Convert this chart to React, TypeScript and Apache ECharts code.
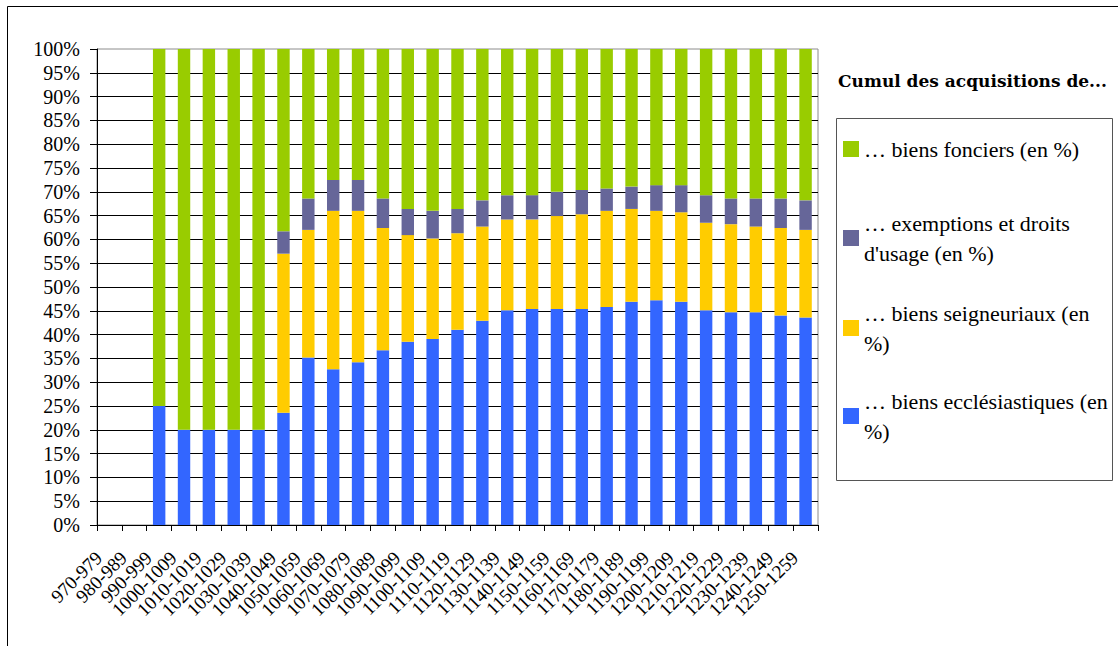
import React, { useEffect, useRef } from "react";
import * as echarts from "echarts";

const categories = [
  "970-979", "980-989", "990-999", "1000-1009", "1010-1019", "1020-1029", "1030-1039",
  "1040-1049", "1050-1059", "1060-1069", "1070-1079", "1080-1089", "1090-1099", "1100-1109",
  "1110-1119", "1120-1129", "1130-1139", "1140-1149", "1150-1159", "1160-1169", "1170-1179",
  "1180-1189", "1190-1199", "1200-1209", "1210-1219", "1220-1229", "1230-1239", "1240-1249",
  "1250-1259",
];

const ecclesiastiques = [
  null, null, 25, 20, 20, 20, 20, 23.6, 35.2, 32.7, 34.2, 36.7, 38.5, 39.1, 41.0,
  42.9, 45.1, 45.4, 45.4, 45.4, 45.8, 46.9, 47.2, 46.9, 45.1, 44.7, 44.7, 44.0, 43.6,
];
const seigneuriaux = [
  null, null, 0, 0, 0, 0, 0, 33.4, 26.8, 33.3, 31.8, 25.7, 22.4, 21.1, 20.3,
  19.8, 19.1, 18.8, 19.5, 19.9, 20.2, 19.5, 18.8, 18.8, 18.4, 18.5, 18.0, 18.4, 18.4,
];
const exemptions = [
  null, null, 0, 0, 0, 0, 0, 4.7, 6.6, 6.5, 6.5, 6.2, 5.5, 5.8, 5.1,
  5.5, 5.1, 5.1, 5.1, 5.1, 4.7, 4.7, 5.4, 5.7, 5.8, 5.4, 5.9, 6.2, 6.2,
];
const fonciers = [
  null, null, 75, 80, 80, 80, 80, 38.3, 31.4, 27.5, 27.5, 31.4, 33.6, 34.0, 33.6,
  31.8, 30.7, 30.7, 30.0, 29.6, 29.3, 28.9, 28.6, 28.6, 30.7, 31.4, 31.4, 31.4, 31.8,
];

const legendTitle = "Cumul des acquisitions de...";
const nameFonciers = "… biens fonciers (en %)";
const nameExemptions = "… exemptions et droits d'usage (en %)";
const nameSeigneuriaux = "… biens seigneuriaux (en %)";
const nameEccl = "… biens ecclésiastiques (en %)";
const legendLines: Record<string, string> = {
  [nameFonciers]: "… biens fonciers (en %)",
  [nameExemptions]: "… exemptions et droits\nd'usage (en %)",
  [nameSeigneuriaux]: "… biens seigneuriaux (en\n%)",
  [nameEccl]: "… biens ecclésiastiques (en\n%)",
};

const SERIF = "Liberation Serif, serif";
const LH = 30;
const ICON = 16;

function mkLegend(name: string, centerY: number, lines: number) {
  return {
    data: [name],
    orient: "vertical",
    left: 843,
    top: lines === 1 ? centerY - LH / 2 : centerY - 1.5 * LH,
    padding: 0,
    icon: "rect",
    itemWidth: ICON,
    itemHeight: ICON,
    itemGap: 0,
    selectedMode: false,
    formatter: (n: string) => legendLines[n],
    textStyle: {
      fontFamily: SERIF,
      fontSize: 22,
      color: "#000",
      lineHeight: LH,
      padding: lines === 1 ? 0 : [LH, 0, 0, 0],
    },
  };
}

export default function App() {
  const ref = useRef<HTMLDivElement>(null);
  useEffect(() => {
    if (!ref.current) return;
    const chart = echarts.init(ref.current, null, { renderer: "svg" });
    const barCommon = {
      type: "bar",
      stack: "total",
      barWidth: "50%",
    };
    chart.setOption({
      animation: false,
      backgroundColor: "#fff",
      textStyle: { fontFamily: SERIF },
      title: {
        text: legendTitle,
        left: 838,
        top: 72,
        padding: 0,
        textStyle: {
          fontFamily: "DejaVu Serif",
          fontSize: 17,
          fontWeight: "bold",
          color: "#000",
        },
      },
      legend: [
        mkLegend(nameFonciers, 149, 1),
        mkLegend(nameExemptions, 238, 2),
        mkLegend(nameSeigneuriaux, 328, 2),
        mkLegend(nameEccl, 416, 2),
      ],
      graphic: [
        {
          type: "rect",
          shape: { x: 7.5, y: 6.5, width: 1300, height: 900 },
          style: { fill: "none", stroke: "#000", lineWidth: 1 },
          silent: true,
        },
        {
          type: "rect",
          shape: { x: 836.5, y: 118.5, width: 276, height: 362 },
          style: { fill: "none", stroke: "#555", lineWidth: 1 },
          silent: true,
        },
      ],
      grid: {
        left: 97,
        right: 300,
        top: 49,
        bottom: 121,
        show: true,
        borderColor: "#8c8c8c",
        borderWidth: 1,
        containLabel: false,
      },
      xAxis: {
        type: "category",
        data: categories,
        boundaryGap: true,
        axisLine: { show: true, lineStyle: { color: "#000", width: 1 } },
        axisTick: { show: true, interval: 0, length: 6, lineStyle: { color: "#000" } },
        axisLabel: {
          interval: 0,
          rotate: 45,
          margin: 19,
          padding: [0, 15, 0, 0],
          fontFamily: SERIF,
          fontSize: 19,
          color: "#000",
        },
        splitLine: { show: false },
      },
      yAxis: {
        type: "value",
        min: 0,
        max: 100,
        interval: 5,
        axisLine: { show: true, lineStyle: { color: "#000", width: 1 } },
        axisTick: { show: true, length: 7, lineStyle: { color: "#000" } },
        axisLabel: {
          formatter: "{value}%",
          margin: 17,
          fontFamily: SERIF,
          fontSize: 20,
          color: "#000",
        },
        splitLine: { show: true, showMaxLine: false, lineStyle: { color: "#000", width: 1 } },
      },
      series: [
        { ...barCommon, name: nameEccl, data: ecclesiastiques, itemStyle: { color: "#3366FF" } },
        { ...barCommon, name: nameSeigneuriaux, data: seigneuriaux, itemStyle: { color: "#FFCC00" } },
        { ...barCommon, name: nameExemptions, data: exemptions, itemStyle: { color: "#666699" } },
        { ...barCommon, name: nameFonciers, data: fonciers, itemStyle: { color: "#99CC00" } },
      ],
    });
    return () => chart.dispose();
  }, []);
  return (
    <div
      ref={ref}
      style={{ position: "fixed", left: 0, top: 0, width: 1118, height: 646 }}
    />
  );
}
